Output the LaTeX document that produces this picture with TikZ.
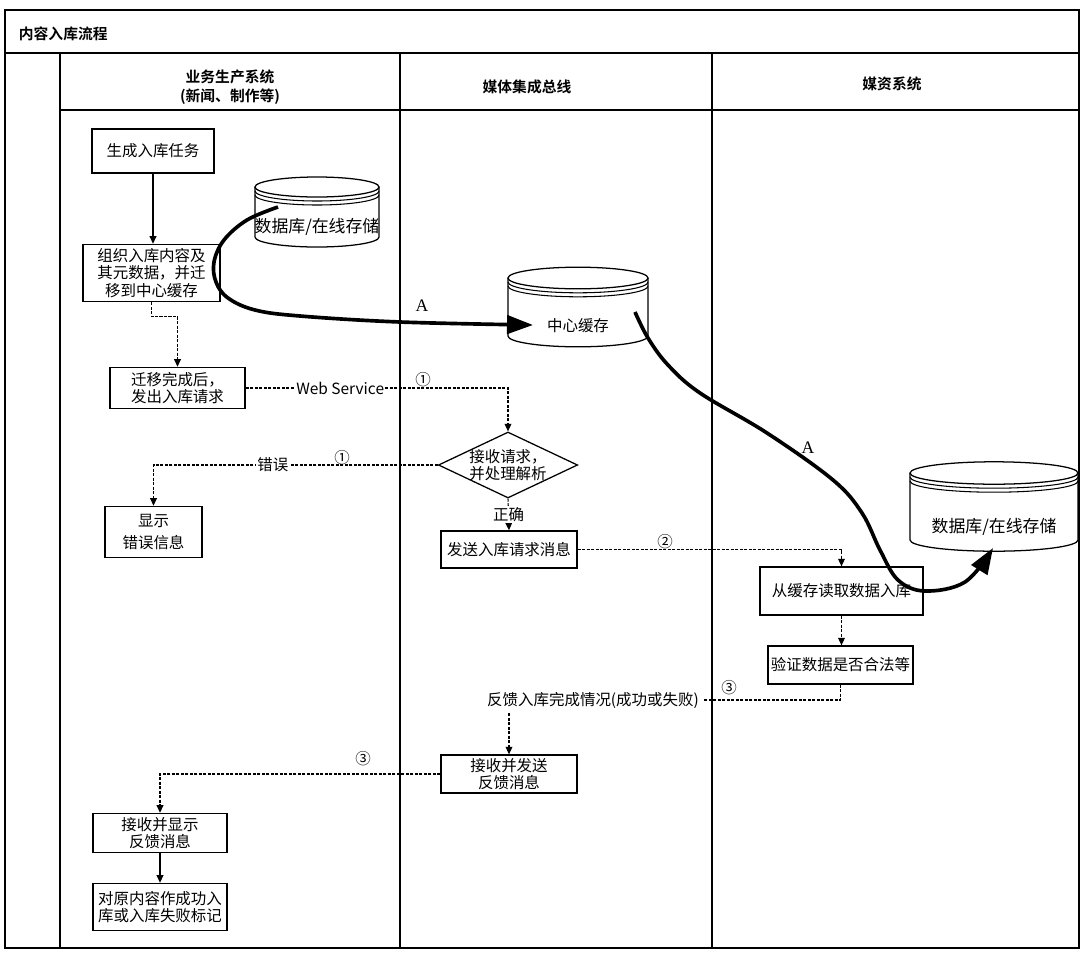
\documentclass[tikz,border=0pt]{standalone}
\usepackage{fontspec}
\setmainfont{Noto Sans CJK SC}[BoldFont={Noto Sans CJK SC Bold}]
\newfontfamily\latinserif{Liberation Serif}
\usetikzlibrary{arrows.meta,calc,shapes.geometric}

\begin{document}
\begin{tikzpicture}[
  x=0.025cm,
  y=-0.025cm,
  >=Latex,
  font=\fontsize{11}{12.5}\selectfont,
  line/.style={draw=black,line width=0.75pt},
  frame/.style={draw=black,line width=1.1pt},
  lane/.style={draw=black,line width=0.8pt},
  arrow/.style={line,-{Triangle[length=1.9mm,width=1.7mm]}},
  dashline/.style={line,dash pattern=on 2.2pt off 1pt},
  dasharrow/.style={arrow,dash pattern=on 2.2pt off 1pt},
  bigarrow/.style={draw=black,line width=2.6pt,-{Triangle[length=6.5mm,width=4.6mm]}},
  block/.style={line,line width=0.9pt,align=center,inner sep=1pt},
  decision/.style={line,line width=0.9pt,diamond,aspect=2.1,align=center,inner sep=-3pt,
    minimum width=3.48cm,minimum height=1.65cm},
  drum/.style={line,line width=0.9pt},
  drumtext/.style={align=center,font=\fontsize{12}{14}\selectfont},
  lanehead/.style={align=center,font=\bfseries\fontsize{10.5}{13.5}\selectfont},
  tag/.style={fill=white,inner sep=1pt},
  circno/.style={inner sep=0pt,font=\fontsize{11}{11}\selectfont},
  letter/.style={inner sep=0pt,font=\latinserif\fontsize{12.5}{12.5}\selectfont}
]
\useasboundingbox (0,0) rectangle (1085,955);

% Frame and swimlanes
\draw[frame] (5,10) rectangle (1079,948);
\draw[frame] (5,53) -- (1079,53);
\draw[frame] (60,110) -- (1079,110);
\draw[lane] (60,53) -- (60,948);
\draw[lane] (400,53) -- (400,948);
\draw[lane] (712,53) -- (712,948);

\node[anchor=west,font=\bfseries\fontsize{10.5}{13}\selectfont] (title) at (14,34) {内容入库流程};
\node[lanehead] (laneA) at (230,87) {业务生产系统\\(新闻、制作等)};
\node[lanehead] (laneB) at (527,87) {媒体集成总线};
\node[lanehead] (laneC) at (892,84) {媒资系统};

% Production system lane
\node[block,minimum width=3.05cm,minimum height=1.1cm] (task) at (153,151) {生成入库任务};
\node[block,minimum width=3.43cm,minimum height=1.43cm] (org) at (151.5,273)
  {组织入库内容及\\其元数据，并迁\\移到中心缓存};
\node[block,minimum width=3.38cm,minimum height=1.03cm] (migr) at (177.5,388)
  {迁移完成后，\\发出入库请求};
\node[block,minimum width=2.43cm,minimum height=1.28cm] (errbox) at (153.5,532)
  {显示\\[3pt]错误信息};
\node[block,minimum width=3.35cm,minimum height=0.98cm] (show) at (160,833)
  {接收并显示\\反馈消息};
\node[block,minimum width=3.35cm,minimum height=1.18cm] (mark) at (160,907)
  {对原内容作成功入\\库或入库失败标记};

% Database drum, production lane
\node[drumtext] (db1) at (317,227) {数据库/在线存储};
\begin{scope}[shift={(317,212)}]
  \draw[drum] (-62,-25) -- (-62,25)
    arc[start angle=180,end angle=360,x radius=1.55cm,y radius=0.25cm] -- (62,-25);
  \draw[drum] (0,-25) ellipse[x radius=1.55cm,y radius=0.25cm];
  \draw[line] (-62,-21) arc[start angle=180,end angle=360,x radius=1.55cm,y radius=0.25cm];
  \draw[line] (-62,-17) arc[start angle=180,end angle=360,x radius=1.55cm,y radius=0.25cm];
\end{scope}

% Media bus lane
\node[drumtext,font=\fontsize{11}{12}\selectfont] (cache) at (578,326) {中心缓存};
\begin{scope}[shift={(578,307)}]
  \draw[drum] (-70,-29) -- (-70,29)
    arc[start angle=180,end angle=360,x radius=1.75cm,y radius=0.27cm] -- (70,-29);
  \draw[drum] (0,-29) ellipse[x radius=1.75cm,y radius=0.27cm];
  \draw[line] (-70,-25) arc[start angle=180,end angle=360,x radius=1.75cm,y radius=0.27cm];
  \draw[line] (-70,-21) arc[start angle=180,end angle=360,x radius=1.75cm,y radius=0.27cm];
\end{scope}

\node[decision] (check) at (508,465) {接收请求，\\并处理解析};
\node[block,minimum width=3.4cm,minimum height=0.93cm] (send) at (509,549.5) {发送入库请求消息};
\node (fbtext) at (593,700) {反馈入库完成情况(成功或失败)};
\node[block,minimum width=3.4cm,minimum height=0.95cm] (relay) at (509,774)
  {接收并发送\\反馈消息};

% Media asset lane
\node[drumtext] (db2) at (994,527) {数据库/在线存储};
\begin{scope}[shift={(994,506)}]
  \draw[drum] (-84,-33) -- (-84,34)
    arc[start angle=180,end angle=360,x radius=2.1cm,y radius=0.28cm] -- (84,-33);
  \draw[drum] (0,-33) ellipse[x radius=2.1cm,y radius=0.28cm];
  \draw[line] (-84,-29) arc[start angle=180,end angle=360,x radius=2.1cm,y radius=0.28cm];
  \draw[line] (-84,-25) arc[start angle=180,end angle=360,x radius=2.1cm,y radius=0.28cm];
\end{scope}

\node[block,minimum width=4.08cm,minimum height=1.2cm] (readin) at (841.5,591) {从缓存读取数据入库};
\node[block,minimum width=3.63cm,minimum height=0.95cm] (verify) at (840.5,665) {验证数据是否合法等};

% Control flow
\draw[arrow] (task.south) -- (task.south |- org.north);
\draw[dasharrow] (org.south) |- ($(migr.north)+(0,-50)$) -- (migr.north);
\draw[dasharrow] (migr.east) -| node[tag,pos=0.18] {Web Service} (check.north);
\node[circno] (n1a) at (423,380) {①};
\draw[dasharrow] (check.west) -| node[tag,pos=0.29] {错误} (errbox.north);
\node[circno] (n1b) at (342,458) {①};
\draw[dasharrow] (check.south) -- node[tag] {正确} (send.north);
\draw[dasharrow] (send.east) -| (readin.north);
\node[circno] (n2) at (665,542) {②};
\draw[dasharrow] (readin.south) -- (readin.south |- verify.north);
\draw[dashline] (verify.south) |- (fbtext.east);
\node[circno] (n3a) at (729,688) {③};
\draw[dasharrow] (relay.north |- fbtext.south) -- (relay.north);
\draw[dasharrow] (relay.west) -| (show.north);
\node[circno] (n3b) at (363,759) {③};
\draw[arrow] (show) -- (mark);

% Data path A
\coordinate (aFrom) at ($(db1)+(-39,-20)$);
\coordinate (aTo) at ($(cache)+(-45,-1)$);
\draw[bigarrow] plot[smooth,tension=0.6] coordinates {(aFrom) (247,220) (224,240) (214,262)
  (216,282) (228,298) (255,310) (300,316) (400,322) (aTo)};
\node[letter] (labelA1) at (422,306) {A};

\coordinate (bFrom) at ($(cache)+(57,-14)$);
\coordinate (bTo) at ($(db2)+(-1,21)$);
\draw[bigarrow] plot[smooth,tension=0.6] coordinates {(bFrom) (648,338) (668,365) (700,393)
  (767,433) (833,480) (862,513) (880,550) (898,580) (925,591) (965,582) (bTo)};
\node[letter] (labelA2) at (808,448) {A};

\end{tikzpicture}
\end{document}
